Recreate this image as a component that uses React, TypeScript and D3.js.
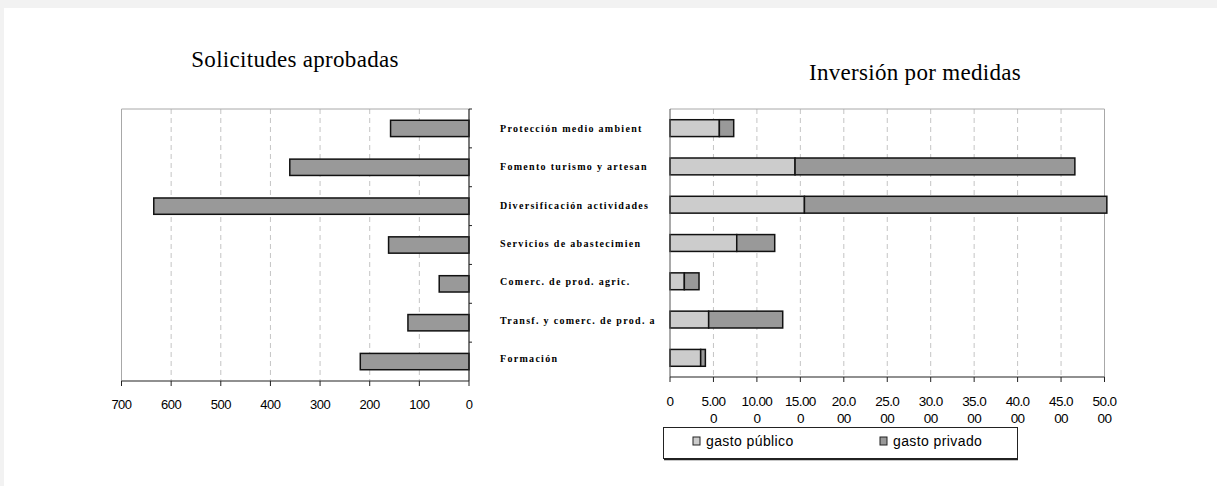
import React from "react";
import * as d3 from "d3";

const categories = [
  "Protección medio ambient",
  "Fomento turismo y artesan",
  "Diversificación actividades",
  "Servicios de abastecimien",
  "Comerc. de prod. agric.",
  "Transf. y comerc. de prod. a",
  "Formación",
];
const solicitudes = [158, 361, 635, 162, 60, 123, 219];
const gastoPublico = [5680, 14390, 15470, 7680, 1650, 4450, 3530];
const gastoPrivado = [1650, 32200, 34800, 4370, 1690, 8520, 540];
const leftTicks = [700, 600, 500, 400, 300, 200, 100, 0];
const rightTicks = [0, 5000, 10000, 15000, 20000, 25000, 30000, 35000, 40000, 45000, 50000];
const rightTickLabels = [
  ["0"],
  ["5.00", "0"],
  ["10.00", "0"],
  ["15.00", "0"],
  ["20.0", "00"],
  ["25.0", "00"],
  ["30.0", "00"],
  ["35.0", "00"],
  ["40.0", "00"],
  ["45.0", "00"],
  ["50.0", "00"],
];
const series = ["gasto público", "gasto privado"];

const W = 1217;
const H = 486;
const sans = "'Liberation Sans', Arial, sans-serif";
const serif = "'Liberation Serif', 'Times New Roman', serif";
const grid = "#c4c4c4";
const frame = "#a8a8a8";
const colPub = "#cccccc";
const colPriv = "#999999";

export default function App() {
  // left chart
  const L = { left: 121.5, right: 469, top: 109, bottom: 381 };
  const xL = d3.scaleLinear().domain([0, 700]).range([L.right, L.left]);
  const yL = d3.scaleBand<string>().domain(categories).range([L.top, L.bottom]).paddingInner(0.58).paddingOuter(0.29);
  const yLb = d3.scaleBand<string>().domain(categories).range([L.top, L.bottom]);

  // right chart
  const R = { left: 670, right: 1104.5, top: 109, bottom: 377 };
  const xR = d3.scaleLinear().domain([0, 50000]).range([R.left, R.right]);
  const yR = d3.scaleBand<string>().domain(categories).range([R.top, R.bottom]).paddingInner(0.56).paddingOuter(0.28);
  const yRb = d3.scaleBand<string>().domain(categories).range([R.top, R.bottom]);

  const stacked = d3
    .stack<number>()
    .keys([0, 1] as any)
    .value((i: number, k: any) => (k === 0 ? gastoPublico[i] : gastoPrivado[i]))(categories.map((_, i) => i) as any);

  return (
    <div style={{ position: "absolute", left: 0, top: 0 }}>
      <svg width={W} height={H} style={{ display: "block" }}>
        <rect x={0} y={0} width={W} height={H} fill="#f2f2f2" />
        <rect x={4} y={8} width={W - 4} height={H - 8} fill="#ffffff" />

        {/* titles */}
        <text x={295} y={67} textAnchor="middle" fontFamily={serif} fontSize={23} letterSpacing={0.3}>
          Solicitudes aprobadas
        </text>
        <text x={915} y={80} textAnchor="middle" fontFamily={serif} fontSize={23} letterSpacing={0.3}>
          Inversión por medidas
        </text>

        {/* left chart */}
        <g>
          {leftTicks.slice(1, -1).map((t) => (
            <line key={t} x1={xL(t)} x2={xL(t)} y1={L.top} y2={L.bottom} stroke={grid} strokeDasharray="5,4" />
          ))}
          <line x1={L.left} x2={L.right} y1={L.top} y2={L.top} stroke={frame} />
          <line x1={L.left} x2={L.left} y1={L.top} y2={L.bottom} stroke={frame} />
          {solicitudes.map((v, i) => (
            <rect
              key={i}
              x={xL(v)}
              y={yL(categories[i])}
              width={xL(0) - xL(v)}
              height={yL.bandwidth()}
              fill={colPriv}
              stroke="#111"
              strokeWidth={1.5}
            />
          ))}
          <line x1={L.right} x2={L.right} y1={L.top} y2={L.bottom} stroke="#222" strokeWidth={1.2} />
          {categories.map((c) => (
            <line key={c} x1={L.right} x2={L.right + 3} y1={yLb(c)!} y2={yLb(c)!} stroke="#222" />
          ))}
          <line x1={L.left} x2={L.right} y1={L.bottom} y2={L.bottom} stroke="#222" strokeWidth={1.2} />
          {leftTicks.map((t) => (
            <g key={t}>
              <line x1={xL(t)} x2={xL(t)} y1={L.bottom} y2={L.bottom + 5} stroke="#222" />
              <text x={xL(t)} y={409} textAnchor="middle" fontFamily={sans} fontSize={13} letterSpacing={-0.5}>
                {t}
              </text>
            </g>
          ))}
        </g>

        {/* category labels */}
        {categories.map((c) => (
          <text
            key={c}
            x={500}
            y={yRb(c)! + yRb.bandwidth() / 2 + 4}
            fontFamily={serif}
            fontSize={10}
            fontWeight="bold"
            letterSpacing={1.3}
          >
            {c}
          </text>
        ))}

        {/* right chart */}
        <g>
          {rightTicks.slice(1, -1).map((t) => (
            <line key={t} x1={xR(t)} x2={xR(t)} y1={R.top} y2={R.bottom} stroke={grid} strokeDasharray="5,4" />
          ))}
          <line x1={R.left} x2={R.right} y1={R.top} y2={R.top} stroke={frame} />
          <line x1={R.right} x2={R.right} y1={R.top} y2={R.bottom} stroke={frame} />
          {stacked.map((layer, k) =>
            layer.map((d, i) => (
              <rect
                key={`${k}-${i}`}
                x={xR(d[0])}
                y={yR(categories[i])}
                width={xR(d[1]) - xR(d[0])}
                height={yR.bandwidth()}
                fill={k === 0 ? colPub : colPriv}
                stroke="#111"
                strokeWidth={1.5}
              />
            ))
          )}
          <line x1={R.left} x2={R.left} y1={R.top} y2={R.bottom} stroke="#555" />
          <line x1={R.left} x2={R.right} y1={R.bottom} y2={R.bottom} stroke="#222" strokeWidth={1.2} />
          {rightTicks.map((t, i) => (
            <g key={t}>
              <line x1={xR(t)} x2={xR(t)} y1={R.bottom} y2={R.bottom + 5} stroke="#222" />
              {rightTickLabels[i].map((s, j) => (
                <text
                  key={j}
                  x={xR(t)}
                  y={406 + j * 17}
                  textAnchor="middle"
                  fontFamily={sans}
                  fontSize={13.5}
                  letterSpacing={-0.6}
                >
                  {s}
                </text>
              ))}
            </g>
          ))}
        </g>

        {/* legend */}
        <g>
          <rect x={663.5} y={427.5} width={354} height={31} fill="#fff" stroke="#222" />
          <line x1={664} x2={1018} y1={459.5} y2={459.5} stroke="#222" strokeWidth={1.5} />
          {series.map((s, i) => (
            <g key={s} transform={`translate(${693 + i * 187},437)`}>
              <rect x={0} y={0} width={7} height={8} fill={i === 0 ? colPub : colPriv} stroke="#222" />
              <text x={13} y={9} fontFamily={sans} fontSize={14} letterSpacing={0.4}>
                {s}
              </text>
            </g>
          ))}
        </g>
      </svg>
    </div>
  );
}
